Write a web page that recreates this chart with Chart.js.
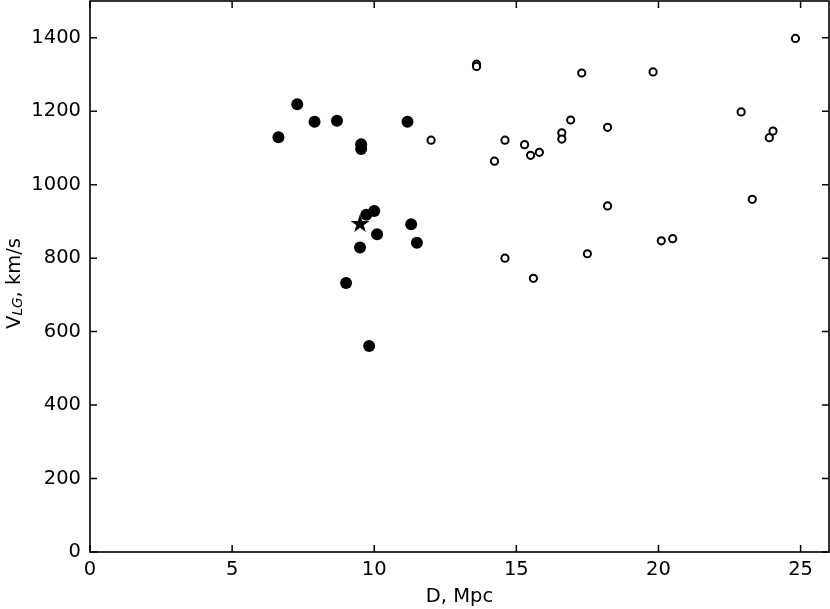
<!DOCTYPE html>
<html>
<head>
<meta charset="utf-8">
<script src="https://cdn.jsdelivr.net/npm/chart.js@4.4.0/dist/chart.umd.min.js"></script>
<style>
  html, body { margin: 0; padding: 0; background: #fff; }
  canvas { display: block; }
</style>
</head>
<body>
<canvas id="plot" width="830" height="609"></canvas>
<script>
// group members (filled circles)
const groupD = [6.63, 7.29, 7.90, 8.69, 11.17, 9.54, 9.54, 9.72, 10.0, 10.1, 9.5, 11.3, 11.5, 9.01, 9.82]
const groupV = [1129, 1219, 1171, 1174, 1171, 1110, 1097, 918, 928, 865, 829, 892, 842, 732, 561]
// background galaxies (open circles)
const fieldD = [12.0, 13.6, 13.6, 14.23, 14.6, 14.6, 15.29, 15.5, 15.81, 15.6, 16.6, 16.6, 16.91, 17.3, 17.5,
                18.21, 18.21, 19.81, 20.1, 20.5, 22.91, 23.3, 23.9, 24.03, 24.82]
const fieldV = [1121, 1328, 1322, 1064, 1121, 800, 1109, 1080, 1088, 745, 1141, 1124, 1176, 1304, 812,
                1156, 942, 1307, 847, 853, 1198, 960, 1128, 1146, 1398]
// central galaxy (star)
const centerD = [9.5]
const centerV = [893]

const xTicks = [0, 5, 10, 15, 20, 25]
const yTicks = [0, 200, 400, 600, 800, 1000, 1200, 1400]

const FONT = 'DejaVu Sans'
const FS = 19.5

function toPoints(xs, ys) {
  return xs.map((x, i) => ({ x: x, y: ys[i] }))
}

function makeStar(R) {
  const c = document.createElement('canvas')
  const size = Math.ceil(2 * R + 2)
  c.width = size
  c.height = size
  const g = c.getContext('2d')
  g.translate(size / 2, size / 2)
  g.beginPath()
  for (let i = 0; i < 10; i++) {
    const r = i % 2 ? R * 0.381966 : R
    const a = -Math.PI / 2 + i * Math.PI / 5
    g.lineTo(r * Math.cos(a), r * Math.sin(a))
  }
  g.closePath()
  g.fillStyle = '#000'
  g.fill()
  return c
}

function noPadding(s) {
  s.paddingTop = 0
  s.paddingBottom = 0
  s.paddingLeft = 0
  s.paddingRight = 0
}

// box + inward ticks on all four sides, matplotlib style
const framePlugin = {
  id: 'frame',
  afterDraw(chart) {
    const { ctx, chartArea: a, scales } = chart
    const len = 7
    ctx.save()
    ctx.strokeStyle = '#000'
    ctx.lineWidth = 1.5
    scales.x.ticks.forEach(t => {
      const px = scales.x.getPixelForValue(t.value)
      ctx.beginPath()
      ctx.moveTo(px, a.bottom); ctx.lineTo(px, a.bottom - len)
      ctx.moveTo(px, a.top); ctx.lineTo(px, a.top + len)
      ctx.stroke()
    })
    scales.y.ticks.forEach(t => {
      const py = scales.y.getPixelForValue(t.value)
      ctx.beginPath()
      ctx.moveTo(a.left, py); ctx.lineTo(a.left + len, py)
      ctx.moveTo(a.right, py); ctx.lineTo(a.right - len, py)
      ctx.stroke()
    })
    ctx.lineWidth = 1.6
    ctx.strokeRect(a.left, a.top, a.right - a.left, a.bottom - a.top)

    // y title with italic subscript
    const cy = (a.top + a.bottom) / 2
    const sub = FS * 0.7
    ctx.fillStyle = '#000'
    ctx.textBaseline = 'alphabetic'
    ctx.font = FS + 'px "' + FONT + '"'
    const wV = ctx.measureText('V').width
    const wRest = ctx.measureText(', km/s').width
    ctx.font = 'italic ' + sub + 'px "' + FONT + '"'
    const wSub = ctx.measureText('LG').width
    const total = wV + wSub + wRest
    ctx.translate(20, cy + 7)
    ctx.rotate(-Math.PI / 2)
    let x0 = -total / 2
    ctx.font = FS + 'px "' + FONT + '"'
    ctx.fillText('V', x0, 0)
    x0 += wV
    ctx.font = 'italic ' + sub + 'px "' + FONT + '"'
    ctx.fillText('LG', x0, 2)
    x0 += wSub
    ctx.font = FS + 'px "' + FONT + '"'
    ctx.fillText(', km/s', x0, 0)
    ctx.restore()
  }
}

new Chart(document.getElementById('plot').getContext('2d'), {
  type: 'scatter',
  data: {
    datasets: [
      {
        data: toPoints(centerD, centerV),
        pointStyle: makeStar(10),
        pointRadius: 10
      },
      {
        data: toPoints(groupD, groupV),
        pointRadius: 6,
        pointBorderWidth: 0,
        pointBackgroundColor: '#000',
        pointBorderColor: '#000'
      },
      {
        data: toPoints(fieldD, fieldV),
        pointRadius: 3.6,
        pointBorderWidth: 2,
        pointBackgroundColor: '#fff',
        pointBorderColor: '#000'
      }
    ]
  },
  options: {
    responsive: false,
    animation: false,
    events: [],
    layout: { autoPadding: false, padding: { top: 1, right: 1, left: 0, bottom: 0 } },
    scales: {
      x: {
        type: 'linear',
        min: 0,
        max: 26,
        afterBuildTicks: s => { s.ticks = xTicks.map(v => ({ value: v })) },
        afterFit: s => { s.height = 57; noPadding(s) },
        grid: { display: false, drawTicks: false },
        border: { display: false },
        ticks: {
          color: '#000',
          padding: 6,
          maxRotation: 0,
          callback: v => String(v),
          font: { family: FONT, size: FS }
        },
        title: {
          display: true,
          text: 'D, Mpc',
          color: '#000',
          padding: { top: 4, bottom: 0 },
          font: { family: FONT, size: FS }
        }
      },
      y: {
        type: 'linear',
        min: 0,
        max: 1500,
        afterBuildTicks: s => { s.ticks = yTicks.map(v => ({ value: v })) },
        afterFit: s => { s.width = 90; noPadding(s) },
        grid: { display: false, drawTicks: false },
        border: { display: false },
        ticks: {
          color: '#000',
          padding: 9,
          callback: v => String(v),
          font: { family: FONT, size: FS }
        }
      }
    },
    plugins: {
      legend: { display: false },
      tooltip: { enabled: false }
    }
  },
  plugins: [framePlugin]
})
</script>
</body>
</html>
